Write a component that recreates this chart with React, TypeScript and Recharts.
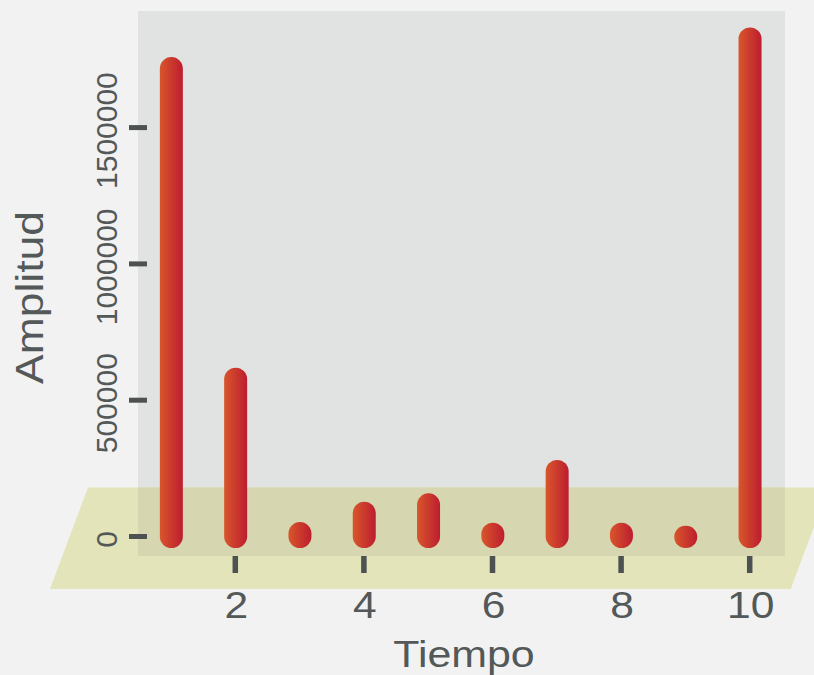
import React from "react";
import * as R from "recharts";
import { ComposedChart, Bar, XAxis, YAxis, Customized } from "recharts";

// ---- data ----
const tiempo = [1, 2, 3, 4, 5, 6, 7, 8, 9, 10];
const amplitud = [1716000, 576700, 10600, 85100, 115900, 8100, 238100, 8100, -2900, 1825000];
const xTicks = [2, 4, 6, 8, 10];
const yTicks = [0, 500000, 1000000, 1500000];

const data = tiempo.map((t, i) => ({ t, amp: amplitud[i] }));

// ---- layout / style ----
const W = 814;
const H = 675;
const MARGIN = { top: 11, right: 29, bottom: 0, left: 0 };
const Y_AXIS_W = 138;
const X_AXIS_H = 119;
const X_DOMAIN: [number, number] = [0.4868, 10.549];
const Y_DOMAIN: [number, number] = [-71500, 1927700];

const PAGE_BG = "#f2f2f2";
const WALL = "#e1e3e2";
const FLOOR = "#e3e4b9";
const OVERLAP = "#d6d7b0";
const INK = "#535858";
const TICK = "#4d5151";
const FONT = "'Liberation Sans', Arial, Helvetica, sans-serif";
const R_CAP = 11.6;

function Backdrop(props: any) {
  const hook = (R as any).usePlotArea;
  const pa = hook ? hook() : null;
  const x = pa ? pa.x : Y_AXIS_W + MARGIN.left;
  const y = pa ? pa.y : MARGIN.top;
  const w = pa ? pa.width : W - MARGIN.right - x;
  const h = pa ? pa.height : H - MARGIN.bottom - X_AXIS_H - y;
  const bottom = y + h;
  const right = x + w;
  const floorTop = bottom - 68.5;
  const floorBot = bottom + 33;
  const slant = 38;
  const blx = x - 88;
  const brx = right + 5.7;
  const pts = [
    [blx + slant, floorTop],
    [brx + slant, floorTop],
    [brx, floorBot],
    [blx, floorBot],
  ]
    .map((p) => p.join(","))
    .join(" ");
  return (
    <g>
      <defs>
        <linearGradient id="barGrad" x1="0" y1="0" x2="1" y2="0">
          <stop offset="0%" stopColor="#d8562b" />
          <stop offset="100%" stopColor="#bd1d2f" />
        </linearGradient>
      </defs>
      <rect x={x} y={y} width={w} height={h} fill={WALL} />
      <polygon points={pts} fill={FLOOR} />
      <rect x={x} y={floorTop} width={w} height={bottom - floorTop} fill={OVERLAP} />
    </g>
  );
}

function Pill(props: any) {
  const { x, y, width, height, payload } = props;
  if (x == null || y == null) return null;
  const top = Math.min(y, y + height);
  const bot = Math.max(y, y + height);
  const v = payload ? payload.amp : 0;
  const valuePos = v >= 0 ? top : bot;
  const basePos = v >= 0 ? bot : top;
  const y0 = valuePos - R_CAP;
  const hh = basePos + R_CAP - y0;
  const rr = Math.min(width / 2, hh / 2);
  return <rect x={x} y={y0} width={width} height={hh} rx={rr} ry={rr} fill="url(#barGrad)" />;
}

function XTick(props: any) {
  const { x, y, payload } = props;
  return (
    <g>
      <line x1={x} y1={y} x2={x} y2={y + 17} stroke={TICK} strokeWidth={5.5} />
      <text
        transform={`translate(${x + 1},${y + 62}) scale(1.15,1)`}
        textAnchor="middle"
        fontFamily={FONT}
        fontSize={37}
        fill={INK}
      >
        {payload.value}
      </text>
    </g>
  );
}

function YTick(props: any) {
  const { x, y, payload } = props;
  return (
    <g>
      <line x1={x - 9} y1={y} x2={x + 9} y2={y} stroke={TICK} strokeWidth={5} />
      <text
        transform={`translate(${x - 21},${y + 3}) rotate(-90)`}
        textAnchor="middle"
        fontFamily={FONT}
        fontSize={30}
        fill={INK}
      >
        {payload.value}
      </text>
    </g>
  );
}

function XTitle(props: any) {
  const vb = props.viewBox || { x: Y_AXIS_W, y: 556, width: 647, height: X_AXIS_H };
  const cx = vb.x + vb.width / 2 + 2.5;
  const by = vb.y + 111;
  return (
    <text
      transform={`translate(${cx},${by}) scale(1.16,1)`}
      textAnchor="middle"
      fontFamily={FONT}
      fontSize={37}
      fill={INK}
    >
      Tiempo
    </text>
  );
}

function YTitle(props: any) {
  const vb = props.viewBox || { x: 0, y: 11, width: Y_AXIS_W, height: 545 };
  const cy = vb.y + vb.height / 2 + 14;
  return (
    <text
      transform={`translate(43,${cy}) rotate(-90) scale(1.14,1)`}
      textAnchor="middle"
      fontFamily={FONT}
      fontSize={39}
      fill={INK}
    >
      Amplitud
    </text>
  );
}

export default function App() {
  return (
    <div
      style={{
        position: "absolute",
        left: 0,
        top: 0,
        width: W,
        height: H,
        background: PAGE_BG,
        overflow: "hidden",
      }}
    >
      <ComposedChart width={W} height={H} data={data} margin={MARGIN}>
        <Customized component={Backdrop} />
        <XAxis
          dataKey="t"
          type="number"
          domain={X_DOMAIN}
          allowDataOverflow
          ticks={xTicks}
          interval={0}
          height={X_AXIS_H}
          axisLine={false}
          tickLine={false}
          tickSize={0}
          tickMargin={0}
          tick={<XTick />}
          label={{ content: <XTitle /> } as any}
        />
        <YAxis
          type="number"
          domain={Y_DOMAIN}
          allowDataOverflow
          ticks={yTicks}
          interval={0}
          width={Y_AXIS_W}
          axisLine={false}
          tickLine={false}
          tickSize={0}
          tickMargin={0}
          tick={<YTick />}
          label={{ content: <YTitle /> } as any}
        />
        <Bar dataKey="amp" barSize={23} shape={<Pill />} isAnimationActive={false} />
      </ComposedChart>
    </div>
  );
}
